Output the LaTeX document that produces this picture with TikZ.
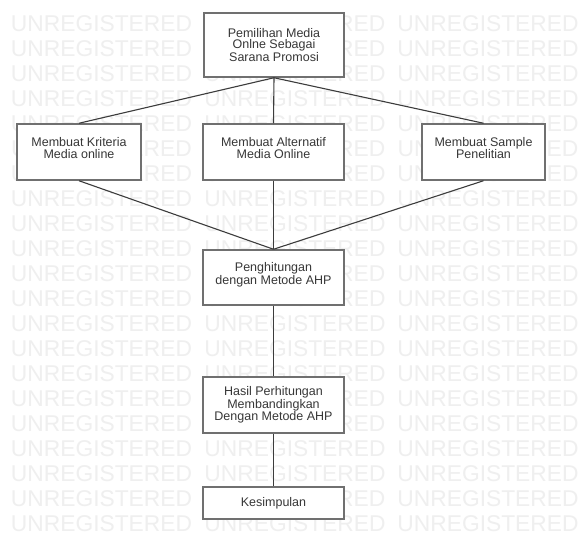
\documentclass[tikz,border=0pt]{standalone}
\usepackage{fontspec}
\setmainfont{Liberation Sans}
\definecolor{wmgray}{RGB}{239,239,239}
\definecolor{boxgray}{RGB}{112,112,112}
\definecolor{linegray}{RGB}{60,60,60}
\definecolor{txtgray}{RGB}{55,55,55}
\tikzset{
  wm/.style={text=wmgray, font=\fontsize{22.8}{24}\selectfont, inner sep=0pt},
  stepbox/.style={draw=boxgray, line width=1.5pt, fill=white, inner sep=0pt},
  txt/.style={text=txtgray, align=center, inner sep=0pt, font=\fontsize{12.5}{11.5}\selectfont},
  conn/.style={draw=linegray, line width=1.1pt}
}
\begin{document}
\begin{tikzpicture}[x=1pt,y=-1pt]
\useasboundingbox[fill=white] (0,0) rectangle (581,537);
% watermark: full rows
\foreach \r in {2,3,4,6,7,8,9,11,12,13,14,17,18,20}{
  \foreach \c/\cx in {1/101.5,2/295,3/488}{
    \node[wm] (wm-\r-\c) at (\cx,24+25*\r) {UNREGISTERED};
  }
}
% rows partly behind the central boxes
\foreach \r in {0,1,10,15,16,19}{
  \node[wm] (wm-\r-1) at (101.5,24+25*\r) {UNREGISTERED};
  \node[wm,anchor=east] (wm-\r-2) at (385.5,24+25*\r) {RED};
  \node[wm] (wm-\r-3) at (488,24+25*\r) {UNREGISTERED};
}
% row behind the three middle boxes
\node[wm,anchor=west] (wm-5-1a) at (11,149) {U};
\node[wm,anchor=east] (wm-5-1b) at (192,149) {ERED};
\node[wm,anchor=east] (wm-5-2) at (385.5,149) {RED};
\node[wm,anchor=west] (wm-5-3a) at (397.5,149) {UN};
\node[wm,anchor=east] (wm-5-3b) at (578.5,149) {ED};
% boxes
\node[stepbox, minimum width=140pt, minimum height=64pt] (top) at (274,45) {};
\node[txt] (topt) at (top.center) {Pemilihan Media\\Onlne Sebagai\\Sarana Promosi};
\node[stepbox, minimum width=124pt, minimum height=56pt] (left) at (79,152) {};
\node[txt] (leftt) at ([yshift=4pt]left.center) {Membuat Kriteria\\Media online};
\node[stepbox, minimum width=141pt, minimum height=56pt] (mid) at (273.5,152) {};
\node[txt] (midt) at ([yshift=4pt]mid.center) {Membuat Alternatif\\Media Online};
\node[stepbox, minimum width=123pt, minimum height=56pt] (right) at (483.5,152) {};
\node[txt] (rightt) at ([yshift=4pt]right.center) {Membuat Sample\\Penelitian};
\node[stepbox, minimum width=141pt, minimum height=55pt] (pen) at (273.5,277.5) {};
\node[txt] (pent) at ([yshift=3pt]pen.center) {Penghitungan\\dengan Metode AHP};
\node[stepbox, minimum width=141pt, minimum height=56pt] (has) at (273.5,405) {};
\node[txt] (hast) at (has.center) {Hasil Perhitungan\\Membandingkan\\Dengan Metode AHP};
\node[stepbox, minimum width=141pt, minimum height=32pt] (kes) at (273.5,503) {};
\node[txt] (kest) at (kes.center) {Kesimpulan};
% connectors
\draw[conn] (top.south) -- (left.north);
\draw[conn] (top.south) -- (mid.north);
\draw[conn] (top.south) -- (right.north);
\draw[conn] (left.south) -- (pen.north);
\draw[conn] (mid.south) -- (pen.north);
\draw[conn] (right.south) -- (pen.north);
\draw[conn] (pen.south) -- (has.north);
\draw[conn] (has.south) -- (kes.north);
\end{tikzpicture}
\end{document}
